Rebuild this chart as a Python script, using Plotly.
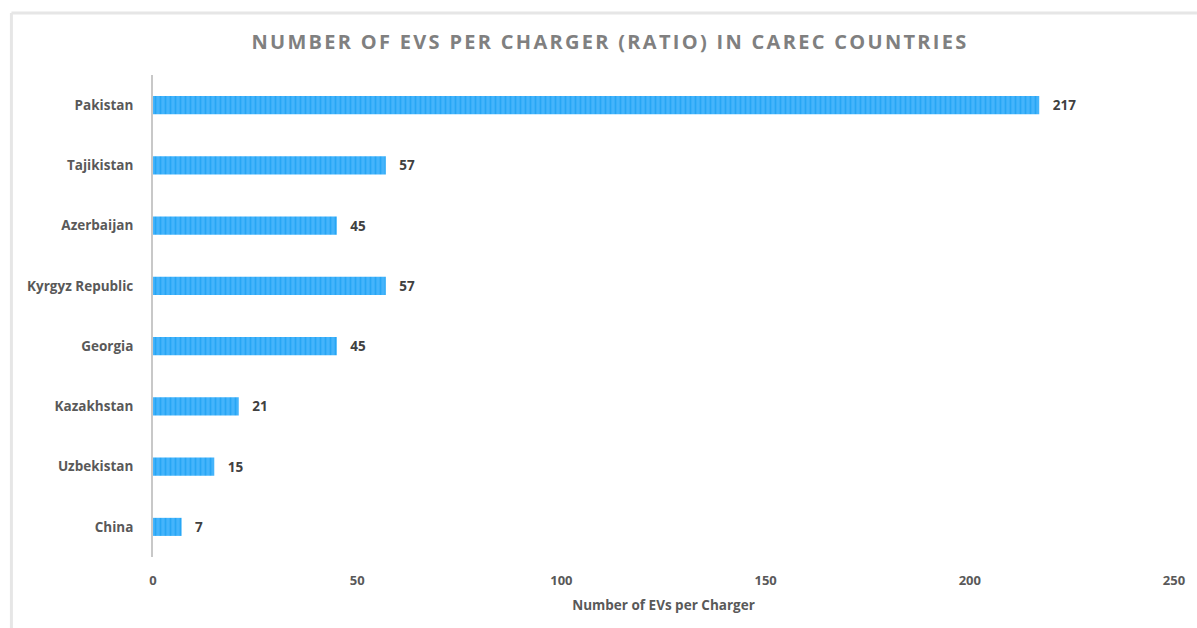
import plotly.graph_objects as go

countries = ["Pakistan", "Tajikistan", "Azerbaijan", "Kyrgyz Republic", "Georgia", "Kazakhstan", "Uzbekistan", "China"]
evs_per_charger = [217, 57, 45, 57, 45, 21, 15, 7]
x_ticks = [0, 50, 100, 150, 200, 250]

W, H = 1197, 628
ml, mr, mt, mb = 153, 20, 75, 71
FONT = "Open Sans"

fig = go.Figure()
fig.add_trace(go.Bar(
    y=countries,
    x=evs_per_charger,
    orientation="h",
    width=0.3,
    marker=dict(
        color="#45b4fb",
        line=dict(width=0),
        pattern=dict(shape="|", fgcolor="#0a98ee", size=5, solidity=0.35, fillmode="overlay"),
    ),
    text=["\u00a0\u00a0\u00a0" + str(v) for v in evs_per_charger],
    textposition="outside",
    textfont=dict(family=FONT, size=13.5, color="#404040", weight="bold"),
    cliponaxis=False,
    showlegend=False,
))

pw = W - ml - mr
ph = H - mt - mb
def px_x(p):
    return (p - ml) / pw
def px_y(p):
    return (H - mb - p) / ph

fig.update_layout(
    width=W, height=H,
    margin=dict(l=ml, r=mr, t=mt, b=mb, pad=0),
    paper_bgcolor="white",
    plot_bgcolor="white",
    title=dict(
        text="NUMBER OF EVS PER CHARGER (RATIO) IN CAREC COUNTRIES",
        x=610 / W, xanchor="center", y=1 - 42 / H, yanchor="middle",
        font=dict(family=FONT, size=20, color="#808080", weight="bold"),
    ),
    xaxis=dict(
        range=[0, 250], tickvals=x_ticks, showgrid=False, zeroline=False,
        showline=False, ticks="", ticklabelstandoff=14,
        tickfont=dict(family=FONT, size=13, color="#595959", weight="bold"),
        title=dict(text="Number of EVs per Charger", standoff=12,
                   font=dict(family=FONT, size=13.5, color="#595959", weight="bold")),
    ),
    yaxis=dict(
        categoryorder="array", categoryarray=countries[::-1],
        showgrid=False, zeroline=False, showline=True, linecolor="#c8c8c8", linewidth=2,
        ticks="", ticklabelstandoff=15,
        tickfont=dict(family=FONT, size=13.5, color="#595959", weight="bold"),
    ),
    shapes=[
        dict(type="line", xref="paper", yref="paper", x0=px_x(11), x1=px_x(1200), y0=px_y(13), y1=px_y(13),
             line=dict(color="#e6e6e6", width=3)),
        dict(type="line", xref="paper", yref="paper", x0=px_x(11), x1=px_x(11), y0=px_y(13), y1=px_y(630),
             line=dict(color="#e6e6e6", width=3)),
    ],
)

post = """
document.body.style.margin='0';
document.querySelectorAll('.gtitle').forEach(function(t){t.style.letterSpacing='2.3px';});
"""
fig.write_html("out.html", post_script=post, config={"displayModeBar": False})
